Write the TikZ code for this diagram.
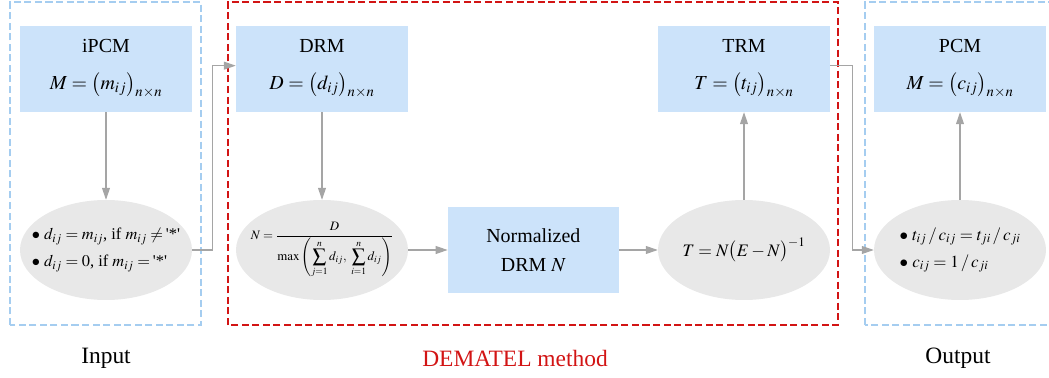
\documentclass[tikz,border=0pt]{standalone}
\usepackage{amsmath}
\usepackage{mathptmx}
\usepackage{fontspec}
\setmainfont{Liberation Serif}
\usetikzlibrary{arrows.meta,shapes.geometric}
\definecolor{boxblue}{RGB}{204,227,250}
\definecolor{ellgray}{RGB}{232,232,232}
\definecolor{linegray}{RGB}{165,165,165}
\definecolor{frameblue}{RGB}{165,205,240}
\definecolor{framered}{RGB}{210,20,20}
\newcommand{\bigsum}{\mathop{\vcenter{\hbox{\scalebox{1.5}{$\sum$}}}}\limits}
\begin{document}
\begin{tikzpicture}[
  box/.style={rectangle, fill=boxblue, minimum width=5.16cm,
              minimum height=2.58cm, align=center,
              font=\fontsize{17}{25}\selectfont},
  calc_ell/.style={ellipse, fill=ellgray, minimum width=5.16cm,
                   minimum height=3cm, inner xsep=-0.6cm,
                   inner ysep=-0.4cm, align=left,
                   font=\fontsize{14}{23}\selectfont},
  arrow/.style={-{Triangle[length=3.6mm,width=2.4mm]}, line width=0.9pt,
                draw=linegray},
  frame/.style={dashed, line width=1.2pt, dash pattern=on 6pt off 3pt},
  caption/.style={font=\fontsize{20}{22}\selectfont}
]
  \clip (0,0) rectangle (31.47,11.31);
  % frames
  \draw[frame, frameblue] (0.3,1.56) rectangle (6.03,11.25);
  \draw[frame, framered] (6.84,1.56) rectangle (25.14,11.25);
  \draw[frame, frameblue] (25.95,1.56) rectangle (31.8,11.25);

  \node[box] (ipcm) at (3.18, 9.24)
    {iPCM\\[6pt]$M=\bigl(m_{ij}\bigr)_{n\times n}$};
  \node[calc_ell] (input_rule) at (3.18, 3.81)
    {$\bullet$ $d_{ij}=m_{ij}$, if $m_{ij}\neq$\,\textquotesingle*\textquotesingle\\
     $\bullet$ $d_{ij}=0$, if $m_{ij}=$\,\textquotesingle*\textquotesingle};

  \node[box] (drm) at (9.66, 9.24)
    {DRM\\[6pt]$D=\bigl(d_{ij}\bigr)_{n\times n}$};
  \node[calc_ell, align=center, font=\fontsize{11}{13}\selectfont]
    (normalize) at (9.66, 3.81)
    {$N=\dfrac{D}{\max\left(\bigsum_{j=1}^{n}d_{ij},\ \bigsum_{i=1}^{n}d_{ij}\right)}$};
  \node[box, minimum width=5.13cm] (ndrm) at (16.0, 3.81)
    {Normalized\\DRM $N$};
  \node[calc_ell, align=center, font=\fontsize{15}{18}\selectfont]
    (total) at (22.32, 3.81)
    {$T=N\bigl(E-N\bigr)^{-1}$};
  \node[box] (trm) at (22.32, 9.24)
    {TRM\\[6pt]$T=\bigl(t_{ij}\bigr)_{n\times n}$};

  \node[box] (pcm) at (28.8, 9.24)
    {PCM\\[6pt]$M=\bigl(c_{ij}\bigr)_{n\times n}$};
  \node[calc_ell, font=\fontsize{14.5}{23}\selectfont] (output_rule)
    at (28.8, 3.81)
    {$\bullet$ $t_{ij}\,/\,c_{ij}=t_{ji}\,/\,c_{ji}$\\
     $\bullet$ $c_{ij}=1\,/\,c_{ji}$};

  \draw[arrow] (ipcm) -- (input_rule);
  \draw[arrow] (input_rule.east) -- ++(0.6,0) |- ([yshift=0.1cm]drm.west);
  \draw[arrow] (drm) -- (normalize);
  \draw[arrow] (normalize) -- (ndrm);
  \draw[arrow] (ndrm) -- (total);
  \draw[arrow] (total) -- (trm);
  \draw[arrow] ([yshift=0.1cm]trm.east) -- ++(0.66,0) |- (output_rule.west);
  \draw[arrow] (output_rule) -- (pcm);

  \node[caption] (in_label) at (3.18, 0.57) {Input};
  \node[caption, text=framered] (dem_label) at (15.45, 0.57)
    {DEMATEL method};
  \node[caption] (out_label) at (28.74, 0.57) {Output};
\end{tikzpicture}
\end{document}
